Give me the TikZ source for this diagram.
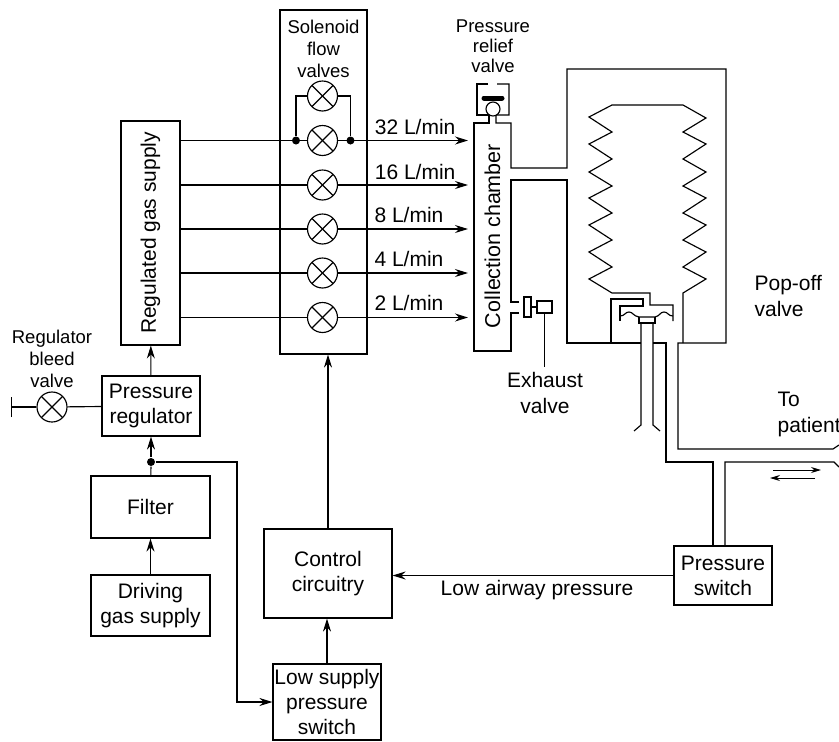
\documentclass[tikz,border=0pt]{standalone}
\usepackage{graphicx}
\usepackage{fontspec}
\setmainfont{Liberation Sans}
\usetikzlibrary{arrows.meta, calc}

\begin{document}
\begin{tikzpicture}[
    x=1pt, y=-1pt,
    line width=1.15pt,
    >={Stealth[length=13pt, width=8pt]},
    box/.style={rectangle, draw, inner sep=0pt, align=center, font=\fontsize{21}{25}\selectfont},
    txt/.style={inner sep=0pt, align=center, font=\fontsize{21}{26}\selectfont},
    smalltxt/.style={inner sep=0pt, align=center, font=\fontsize{18.5}{22}\selectfont},
    valve/.style={circle, draw, fill=white, inner sep=0pt, minimum size=30pt,
        path picture={
            \draw (path picture bounding box.center) ++(-11,-11) -- ++(22,22);
            \draw (path picture bounding box.center) ++(-11,11) -- ++(22,-22);
        }},
    dot/.style={circle, fill=black, inner sep=0pt, minimum size=8pt},
    flow/.style={->},
    tube/.style={line width=1.15pt, line join=miter}
]
\useasboundingbox (0,0) rectangle (839,742);

% Left column
\node[box, minimum width=59pt, minimum height=224pt] (supply) at (150.5,233) {\rotatebox{90}{Regulated gas supply}};
\node[box, minimum width=98pt, minimum height=60pt] (regulator) at (151,406) {Pressure\\regulator};
\node[box, minimum width=119pt, minimum height=62pt] (filter) at (150.5,507) {Filter};
\node[box, minimum width=119pt, minimum height=61pt] (driving) at (150.5,605.5) {Driving\\gas supply};
\node[dot] (split) at (151,462) {};

% Bleed valve
\node[valve] (bleed) at (52,407) {};
\coordinate (bleedend) at (11,407);
\node[smalltxt] (bleedtxt) at (52,358.5) {Regulator\\bleed\\valve};

% Control
\node[box, minimum width=128pt, minimum height=89pt] (control) at (328,573.5) {Control\\circuitry};
\node[box, minimum width=108pt, minimum height=76pt] (lowswitch) at (327,702) {Low supply\\pressure\\switch};
\node[box, minimum width=98pt, minimum height=59pt] (switch) at (723,575.5) {Pressure\\switch};
\node[txt] (lowtxt) at (537,590) {Low airway pressure};

% Solenoid valves
\node[box, minimum width=87pt, minimum height=344pt] (solenoid) at (323.5,182) {};
\node[smalltxt] (solenoidtxt) at (323.5,49) {Solenoid\\flow\\valves};
\node[valve] (v0) at (322.5,96) {};
\node[valve] (v32) at (322.5,140.5) {};
\node[valve] (v16) at (322.5,185) {};
\node[valve] (v8) at (322.5,229) {};
\node[valve] (v4) at (322.5,273) {};
\node[valve] (v2) at (322.5,317.5) {};
\node[dot] (dotl) at (296,140.5) {};
\node[dot] (dotr) at (350.5,140.5) {};

% Flow labels
\node[txt, anchor=east] (t32) at (456,127) {32 L/min};
\node[txt, anchor=east] (t16) at (456,172) {16 L/min};
\node[txt, anchor=east] (t8) at (444,215) {8 L/min};
\node[txt, anchor=east] (t4) at (444,259) {4 L/min};
\node[txt, anchor=east] (t2) at (444,303) {2 L/min};

% Collection chamber
\node[minimum width=37pt, minimum height=228pt, inner sep=0pt, font=\fontsize{21.5}{25}\selectfont] (chamber) at (492.5,236) {\rotatebox{90}{Collection chamber}};
\coordinate (inlet) at (468,200);

% Arrows
\draw[flow] (regulator) -- (supply);
\draw[flow] (split) -- (regulator);
\draw (filter) -- (split);
\draw[flow] (driving) -- (filter);
\draw (regulator) -- (bleed);
\draw[-{Bar[width=20pt]}] (bleed) -- (bleedend);
\draw[flow] (split) -| (237,640) |- (lowswitch.west);
\draw[flow] (lowswitch.north) -- (lowswitch.north |- control.south);
\draw[flow] (control.north) -- (control.north |- solenoid.south);
\draw[flow] (switch.west) -- (switch.west -| control.east);

\draw (v32 -| supply.east) -- (v32);
\draw (v16 -| supply.east) -- (v16);
\draw (v8 -| supply.east) -- (v8);
\draw (v4 -| supply.east) -- (v4);
\draw (v2 -| supply.east) -- (v2);
\draw[flow] (v32) -- (v32 -| inlet);
\draw[flow] (v16) -- (v16 -| inlet);
\draw[flow] (v8) -- (v8 -| inlet);
\draw[flow] (v4) -- (v4 -| inlet);
\draw[flow] (v2) -- (v2 -| inlet);
\draw (dotl) |- (v0.west);
\draw (dotr) |- (v0.east);

% Chamber and bellows housing
\draw[tube] (488,84) -- (477,84) -- (477,115) -- (489,115) -- (489,123) -- (474,123) -- (474,351) -- (511,351) -- (511,313) -- (519,313);
\draw[tube] (519,302) -- (511,302) -- (511,180) -- (567,180) -- (567,343) -- (641,343);
\draw[tube] (497,84) -- (509,84) -- (509,115) -- (496,115) -- (496,123) -- (511,123) -- (511,168) -- (567,168) -- (567,69) -- (726,69) -- (726,343) -- (678,343) -- (678,449) -- (833,449) -- (839,445);
\draw[tube] (653,343) -- (666,343) -- (666,462) -- (713,462) -- (713,546);
\draw[tube] (725,546) -- (725,462) -- (834,462) -- (839,467);

% Relief valve
\draw[line width=5pt, line cap=round] (484,98) -- (502,98);
\draw[fill=white] (493,109) circle (7);
\node[smalltxt, font=\fontsize{18.5}{20}\selectfont] (relieftxt) at (493,46) {Pressure\\relief\\valve};

% Exhaust valve
\node[rectangle, draw, inner sep=0pt, minimum width=7pt, minimum height=20pt] (exhaustseat) at (527.5,307) {};
\node[rectangle, draw, inner sep=0pt, minimum width=15pt, minimum height=12pt] (exhaust) at (544.5,307) {};
\node[txt] (exhausttxt) at (545,393) {Exhaust\\valve};
\coordinate (exhaustlead) at (544.5,367);
\draw (exhaustseat) -- (exhaust);
\draw (exhaust) -- (exhaustlead);

% Bellows
\draw[tube] (683,343) -- (683,293) -- (706,279) -- (683,267) -- (706,252) -- (683,240) -- (706,225) -- (683,213) -- (706,198) -- (683,186) -- (706,172) -- (683,159) -- (706,144) -- (683,132) -- (706,118) -- (683,105)
    -- (612,105) -- (589,117) -- (612,132) -- (589,144) -- (612,159) -- (589,172) -- (612,186) -- (589,198) -- (612,213) -- (589,225) -- (612,240) -- (589,252) -- (612,267) -- (589,279) -- (612,293) -- (650,293) -- (650,305) -- (673,305) -- (673,321);

% Pop-off valve
\draw[tube] (611,343) -- (611,299) -- (643,299) -- (643,306) -- (620,306) -- (620,321);
\draw[tube] (620,316) .. controls (625,316) and (625,312) .. (629,312) .. controls (633,312) and (633,316) .. (639,317) -- (655,317) .. controls (660,316) and (660,312) .. (664,312) .. controls (668,312) and (668,316) .. (673,316);
\draw[tube] (639,317) -- (639,323) -- (655,323) -- (655,317);
\draw[tube] (634,431) -- (641,425) -- (641,323);
\draw[tube] (660,431) -- (653,425) -- (653,323);
\node[txt, anchor=west, align=left] (popofftxt) at (754,296) {Pop-off\\valve};
\node[txt, anchor=west, align=left] (patienttxt) at (777,414) {To\\patient};

% Patient arrows
\coordinate (ina) at (773,470);
\coordinate (inb) at (821,470);
\coordinate (outa) at (815,478);
\coordinate (outb) at (770,478);
\draw[->, >={Stealth[length=10pt, width=6pt]}, line width=0.9pt] (ina) -- (inb);
\draw[->, >={Stealth[length=10pt, width=6pt]}, line width=0.9pt] (outa) -- (outb);

\end{tikzpicture}
\end{document}
